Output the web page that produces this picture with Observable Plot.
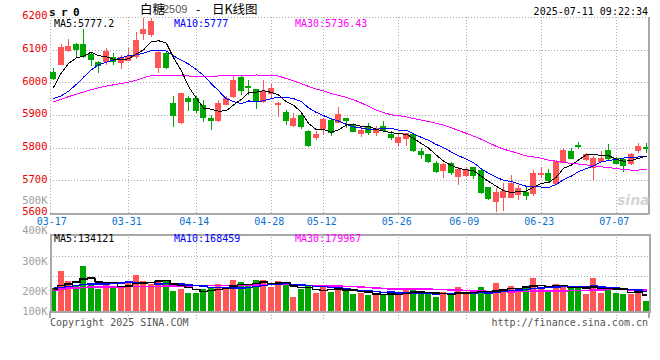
<!DOCTYPE html>
<html><head><meta charset="utf-8">
<script src="https://cdn.jsdelivr.net/npm/d3@7"></script>
<script src="https://cdn.jsdelivr.net/npm/@observablehq/plot@0.6"></script>
<style>
body{margin:0;background:#fff;}
#chart{position:relative;width:660px;height:360px;overflow:hidden;background:#fff;}
#chart svg{position:absolute;left:0;top:0;}
.t{position:absolute;white-space:pre;line-height:1;font-size:10px;font-family:"DejaVu Sans Mono",monospace;}
</style></head><body><div id="chart"></div>
<script>
// ---- data ----
const dates = ["03-17","03-18","03-19","03-20","03-21","03-24","03-25","03-26","03-27","03-28",
"03-31","04-01","04-02","04-03","04-07","04-08","04-09","04-10","04-11","04-14",
"04-15","04-16","04-17","04-18","04-21","04-22","04-23","04-24","04-25","04-28",
"04-29","04-30","05-06","05-07","05-08","05-09","05-12","05-13","05-14","05-15",
"05-16","05-19","05-20","05-21","05-22","05-23","05-26","05-27","05-28","05-29",
"05-30","06-03","06-04","06-05","06-06","06-09","06-10","06-11","06-12","06-13",
"06-16","06-17","06-18","06-19","06-20","06-23","06-24","06-25","06-26","06-27",
"06-30","07-01","07-02","07-03","07-04","07-07","07-08","07-09","07-10","07-11"];
const opens = [6030,6056,6096,6115,6115,6086,6062,6063,6075,6061,
6068,6079,6150,6146,6044,6088,5934,5877,5950,5950,
5928,5889,5883,5933,5957,6016,5988,5977,5942,5967,
5931,5908,5868,5897,5849,5832,5859,5883,5877,5890,
5867,5844,5865,5846,5865,5840,5816,5827,5839,5788,
5778,5751,5730,5752,5711,5715,5738,5730,5678,5635,
5648,5648,5658,5663,5660,5719,5722,5691,5755,5788,
5806,5763,5740,5757,5790,5768,5763,5752,5791,5801];
const highs = [6045,6117,6134,6121,6162,6094,6066,6106,6090,6085,
6105,6155,6197,6196,6100,6095,5957,5968,5957,5959,
5947,5900,5947,5957,6023,6023,6008,5980,6008,5995,
5941,5916,5905,5906,5855,5852,5890,5890,5924,5892,
5875,5865,5877,5866,5882,5850,5842,5846,5845,5798,
5781,5758,5752,5756,5742,5742,5741,5734,5680,5676,
5691,5716,5686,5681,5732,5742,5734,5763,5798,5798,
5817,5785,5775,5790,5810,5772,5768,5783,5814,5814];
const lows = [6008,6052,6093,6075,6074,6050,6030,6054,6054,6040,
6064,6070,6130,6140,6030,6041,5863,5872,5913,5906,
5879,5853,5880,5931,5952,5960,5960,5918,5936,5951,
5893,5868,5862,5857,5803,5824,5840,5837,5875,5860,
5848,5832,5840,5835,5847,5822,5806,5804,5786,5766,
5752,5722,5706,5717,5685,5710,5705,5658,5640,5604,
5607,5645,5640,5640,5653,5706,5691,5689,5752,5765,
5795,5758,5701,5755,5763,5750,5724,5747,5785,5785];
const closes = [6011,6108,6111,6100,6080,6071,6053,6094,6064,6077,
6079,6127,6161,6187,6090,6044,5898,5966,5942,5914,
5893,5882,5934,5950,6005,5975,5985,5942,5972,5980,
5934,5882,5888,5865,5808,5839,5885,5845,5903,5882,
5851,5852,5846,5858,5852,5831,5832,5842,5790,5778,
5757,5727,5748,5725,5734,5734,5714,5664,5643,5662,
5665,5689,5676,5653,5722,5722,5701,5757,5791,5768,
5805,5778,5766,5768,5768,5752,5745,5778,5803,5798];
const volumes = [193000,343000,255000,213000,383000,221000,187000,230000,213000,201000,
244000,306000,255000,227000,255000,264000,170000,187000,153000,153000,
187000,207000,230000,193000,264000,247000,215000,264000,264000,207000,
255000,244000,122000,184000,221000,156000,204000,164000,221000,170000,
145000,156000,136000,142000,142000,164000,142000,176000,198000,142000,
142000,122000,164000,142000,207000,142000,142000,207000,145000,238000,
179000,213000,198000,213000,283000,193000,179000,230000,221000,207000,
193000,145000,283000,156000,207000,156000,145000,145000,173000,85000];
// moving-average values before enough visible history exists
const ma5Head = [5987,6030,6060,6076];
const ma10Head = [5952,5960,5975,5995,6018,6040,6055,6063,6070];
const ma30Head = [5942,5950,5958,5965,5972,5979,5985,5990,5994,5998,6002,6008,6016,6022,6023,
6022,6021,6021,6021,6020,6020,6020,6021,6022,6023,6023,6023,6024,6023];
const vma5Head = [193000,221000,235000,249000];
const vma10Head = [198000,205000,212000,220000,228000,232000,235000,235000,236000];
const vma30Head = [184000,190000,198000,200000,205000,207000,207000,208000,209000,210000,
211000,212000,213000,213000,214000,215000,216000,217000,218000,219000,
219000,220000,221000,222000,223000,224000,225000,226000,228000];
const priceTicks = [5600,5700,5800,5900,6000,6100,6200];
const priceGrid = [5700,5800,5900,6000,6100];
const tickDates = ["03-17","03-31","04-14","04-28","05-12","05-26","06-09","06-23","07-07"];
const volLabelValues = [100000,200000,300000,400000,500000];
const volLabels = ["100K","200K","300K","400K","500K"];
const volGrid = [300000,470000];
const priceMaLabels = ["MA5:5777.2","MA10:5777","MA30:5736.43"];
const volMaLabels = ["MA5:134121","MA10:168459","MA30:179967"];

// ---- derived ----
function movingAvg(vals, n, head) {
  return vals.map((v, i) => i < n - 1 ? head[i] : d3.mean(vals.slice(i - n + 1, i + 1)));
}
const ma5 = movingAvg(closes, 5, ma5Head), ma10 = movingAvg(closes, 10, ma10Head), ma30 = movingAvg(closes, 30, ma30Head);
const vma5 = movingAvg(volumes, 5, vma5Head), vma10 = movingAvg(volumes, 10, vma10Head), vma30 = movingAvg(volumes, 30, vma30Head);
const data = dates.map((date, i) => ({date, open: opens[i], high: highs[i], low: lows[i], close: closes[i],
  volume: volumes[i], ma5: ma5[i], ma10: ma10[i], ma30: ma30[i], vma5: vma5[i], vma10: vma10[i], vma30: vma30[i]}));
const up = data.filter(d => d.close >= d.open), down = data.filter(d => d.close < d.open);

const RED = "#ff5555", GREEN = "#00a600", GRID = "#aaa", BORDER = "#a8a8a8";
const MONO = "DejaVu Sans Mono";
const xOpts = () => ({type: "band", domain: dates, paddingInner: 0.2, paddingOuter: 0.035, axis: null});
const svgStyle = {background: "transparent", fontFamily: MONO, shapeRendering: "crispEdges", overflow: "visible"};
const chart = document.getElementById("chart");

// ---- price panel ----
const price = Plot.plot({
  width: 660, height: 360, marginLeft: 50, marginRight: 11, marginTop: 17, marginBottom: 147,
  style: svgStyle, x: xOpts(), y: {domain: [5600, 6200], axis: null},
  marks: [
    Plot.frame({stroke: GRID, strokeDasharray: "1,2"}),
    Plot.ruleY(priceGrid, {stroke: GRID, strokeDasharray: "1,2"}),
    Plot.ruleX(tickDates.slice(1), {x: d => d, y1: 5600, y2: 6200, stroke: GRID, strokeDasharray: "1,2"}),
    Plot.ruleY([5600], {stroke: BORDER, strokeWidth: 2}),
    Plot.ruleX(up, {x: "date", y1: "low", y2: "high", stroke: RED}),
    Plot.ruleX(down, {x: "date", y1: "low", y2: "high", stroke: GREEN}),
    Plot.barY(up, {x: "date", y1: "open", y2: "close", fill: RED, insetTop: -0.5, insetBottom: -0.5}),
    Plot.barY(down, {x: "date", y1: "open", y2: "close", fill: GREEN, insetTop: -0.5, insetBottom: -0.5}),
    Plot.line(data, {x: "date", y: "ma30", stroke: "#ff00ff", strokeWidth: 1}),
    Plot.line(data, {x: "date", y: "ma10", stroke: "#0000ff", strokeWidth: 1}),
    Plot.line(data, {x: "date", y: "ma5", stroke: "#000", strokeWidth: 1}),
    Plot.text(priceTicks, {y: d => d, text: d => String(d), frameAnchor: "left", dx: -3, dy: -1.5, textAnchor: "end",
      fill: "#e80000", fontSize: 10.5, fontFamily: MONO}),
    Plot.text(tickDates, {x: d => d, text: d => d, frameAnchor: "bottom", dy: 11, dx: -2, fill: "#0a72d0", fontSize: 10, fontFamily: MONO})
  ]
});
d3.select(price).append("line").attr("x1", 649).attr("x2", 649).attr("y1", 17).attr("y2", 213)
  .attr("stroke", BORDER).attr("stroke-width", 2);
chart.appendChild(price);

// ---- volume panel ----
const vol = Plot.plot({
  width: 660, height: 360, marginLeft: 50, marginRight: 11, marginTop: 234, marginBottom: 49,
  style: svgStyle, x: xOpts(), y: {domain: [0, 654500], axis: null},
  marks: [
    Plot.ruleY(volGrid, {stroke: GRID, strokeDasharray: "1,2"}),
    Plot.ruleX(tickDates.slice(1), {x: d => d, stroke: GRID, strokeDasharray: "1,2", insetBottom: -10}),
    Plot.barY(up, {x: "date", y: "volume", fill: RED}),
    Plot.barY(down, {x: "date", y: "volume", fill: GREEN}),
    Plot.line(data, {x: "date", y: "vma30", stroke: "#ff00ff", curve: "step"}),
    Plot.line(data, {x: "date", y: "vma10", stroke: "#0000ff", curve: "step"}),
    Plot.line(data, {x: "date", y: "vma5", stroke: "#000", curve: "step"}),
    Plot.frame({stroke: BORDER, strokeWidth: 2})
  ]
});
[50, 649].forEach(x => d3.select(vol).append("line").attr("x1", x).attr("x2", x).attr("y1", 311).attr("y2", 318)
  .attr("stroke", BORDER).attr("stroke-width", 2));
chart.appendChild(vol);

// ---- volume axis labels (Sina's own label spacing) ----
const vlab = Plot.plot({
  width: 660, height: 360, marginLeft: 50, marginRight: 11, marginTop: 0, marginBottom: 0,
  style: svgStyle,
  y: {type: "linear", domain: [100000, 200000, 500000], range: [311, 291, 200], axis: null},
  marks: [
    Plot.text(volLabelValues, {y: d => d, text: (d, i) => volLabels[i], frameAnchor: "left", dx: -3,
      textAnchor: "end", fill: "#a0a0a0", fontSize: 10.5, fontFamily: MONO})
  ]
});
chart.appendChild(vlab);

// ---- texts ----
function addText(txt, pos, style) {
  const s = document.createElement("div");
  s.className = "t"; s.textContent = txt;
  Object.assign(s.style, pos, style || {});
  chart.appendChild(s);
}
addText("s r 0", {left: "49px", top: "7px"}, {fontWeight: "bold", fontSize: "11px", letterSpacing: "-0.6px"});
const CJK = '"Noto Sans CJK SC", sans-serif';
addText("白糖", {left: "140px", top: "0px"}, {fontFamily: CJK, fontSize: "12.5px", lineHeight: "1.4"});
addText("2509", {left: "163px", top: "3px"}, {fontFamily: '"Liberation Sans", sans-serif', fontSize: "11px", color: "#555", lineHeight: "1.2"});
addText("-", {left: "196px", top: "0px"}, {fontFamily: CJK, fontSize: "12.5px", lineHeight: "1.4"});
addText("日K线图", {left: "212px", top: "0px"}, {fontFamily: CJK, fontSize: "12.5px", lineHeight: "1.4"});
addText("2025-07-11 09:22:34", {right: "12px", top: "7px"});
const maColors = ["#000", "#0000ff", "#ff00ff"], maLefts = ["54px", "174px", "295px"];
priceMaLabels.forEach((t, i) => addText(t, {left: maLefts[i], top: "19px"}, {color: maColors[i]}));
volMaLabels.forEach((t, i) => addText(t, {left: maLefts[i], top: "234px"}, {color: maColors[i]}));
addText("Copyright 2025 SINA.COM", {left: "50px", top: "318px"}, {color: "#555"});
addText("http://finance.sina.com.cn", {right: "12px", top: "318px"}, {color: "#555"});
addText("sina", {left: "617px", top: "193px"}, {fontFamily: '"DejaVu Sans", sans-serif', fontStyle: "italic",
  fontWeight: "bold", fontSize: "14px", color: "#d4d4d4"});
</script></body></html>
